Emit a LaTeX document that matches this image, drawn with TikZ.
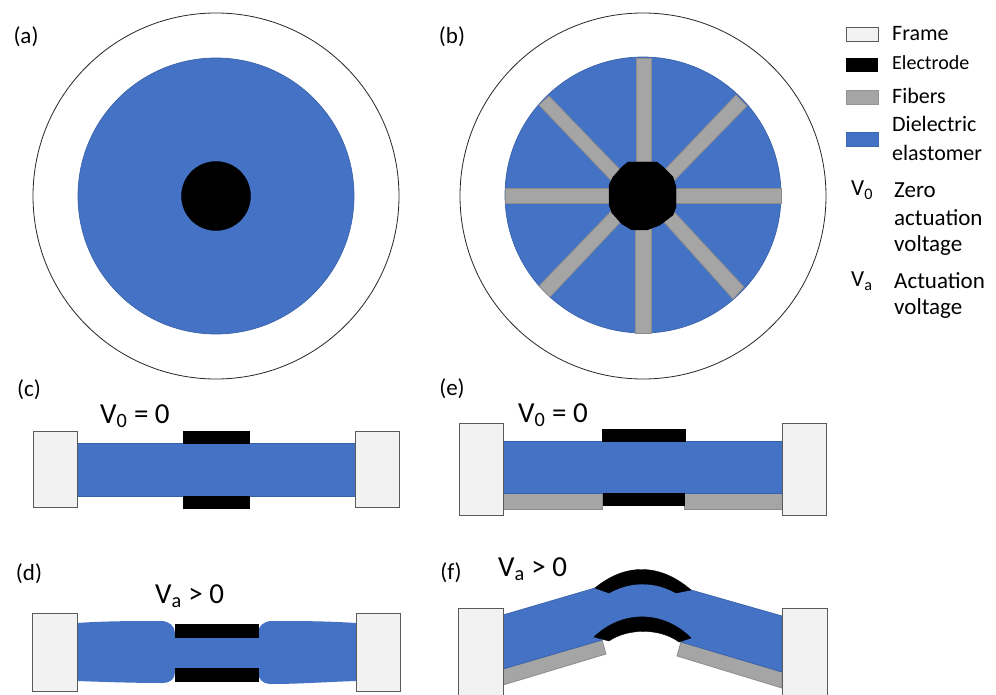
\documentclass[tikz,border=0pt]{standalone}
\usepackage{fontspec}
\setmainfont{Carlito}
\definecolor{blu}{HTML}{4472C4}
\definecolor{bluedge}{HTML}{3A62AA}
\definecolor{framefill}{HTML}{F2F2F2}
\definecolor{frameedge}{HTML}{5A5A5A}
\definecolor{fib}{HTML}{A5A5A5}
\definecolor{fibedge}{HTML}{8C8C8C}
\tikzset{
 ring/.style={draw=black!85,fill=white,line width=0.8pt},
 elastomer/.style={fill=blu,draw=bluedge,line width=0.7pt},
 elastnoedge/.style={fill=blu,draw=none},
 electrode/.style={fill=black,draw=black,line width=0.4pt},
 fiber/.style={fill=fib,draw=fibedge,line width=0.8pt},
 framebox/.style={fill=framefill,draw=frameedge,line width=0.9pt},
 lab/.style={inner sep=0pt,font=\fontsize{23}{27}\selectfont},
 leg/.style={inner sep=0pt,anchor=west,font=\fontsize{22}{26}\selectfont},
 legb/.style={inner sep=0pt,anchor=west,font=\fontsize{23}{27}\selectfont},
 volt/.style={inner sep=0pt,anchor=west,font=\fontsize{29}{35}\selectfont},
}
\begin{document}
\begin{tikzpicture}[x=1pt,y=-1pt]
\useasboundingbox (0,0) rectangle (996,695);
\clip (0,0) rectangle (996,695);
% (a)
\draw[ring] (216,196) circle[radius=183];
\draw[elastomer] (216,196) circle[radius=138];
\draw[electrode] (216,196) circle[radius=34.5];
% (b)
\draw[ring] (643,196) circle[radius=183];
\draw[elastomer] (643,195) circle[radius=138];
\draw[fiber] (636,58) rectangle (651,170);
\draw[fiber] (635,222) rectangle (651,333);
\draw[fiber] (505,188) rectangle (620,203);
\draw[fiber] (667,188) rectangle (781,203);
\draw[fiber] (539,105) -- (549,96) -- (630,180) -- (620,190) -- cycle;
\draw[fiber] (736,95) -- (747,106) -- (665,190) -- (655,180) -- cycle;
\draw[fiber] (539,286) -- (550,297) -- (630,212) -- (620,202) -- cycle;
\draw[fiber] (744,287) -- (733,299) -- (655,212) -- (665,202) -- cycle;
\draw[electrode] (628,162) -- (657,162) -- (663,167) -- (673,177) -- (676,187) -- (676,207) -- (673,215) -- (660,225) -- (647,230) -- (632,230) -- (622,224) -- (612,213) -- (609,205) -- (609,185) -- (613,177) -- (622,167) -- cycle;
% (c)
\draw[elastomer] (77,443) rectangle (355,496);
\draw[electrode] (183,431) rectangle (249,443);
\draw[electrode] (183,496) rectangle (249,508);
\draw[framebox] (33,431) rectangle (77,507);
\draw[framebox] (355,431) rectangle (399,507);
% (e)
\draw[fiber] (503,493) rectangle (602,509);
\draw[fiber] (684,493) rectangle (782,509);
\draw[elastomer] (503,441) rectangle (782,493);
\draw[electrode] (602,429) rectangle (685,441);
\draw[electrode] (603,493) rectangle (684,505);
\draw[framebox] (459,423) rectangle (503,515);
\draw[framebox] (782,423) rectangle (826,515);
% (d)
\draw[elastnoedge] (77,623) .. controls (105,621) and (135,621) .. (161,621)
  .. controls (169,621) and (175,626) .. (175,633) -- (175,672)
  .. controls (175,679) and (170,683) .. (163,683)
  .. controls (135,683) and (105,682) .. (77,681) -- cycle;
\fill[blu] (170,637) rectangle (263,668);
\draw[elastnoedge] (356,623) .. controls (325,621) and (300,621) .. (272,621)
  .. controls (264,621) and (258,626) .. (258,633) -- (258,672)
  .. controls (258,679) and (263,684) .. (270,684)
  .. controls (300,684) and (325,682) .. (356,681) -- cycle;
\draw[electrode] (175,624) rectangle (258,637);
\draw[electrode] (175,668) rectangle (258,681);
\draw[framebox] (32,613) rectangle (77,691);
\draw[framebox] (356,613) rectangle (400,691);
% (f)
\draw[fiber] (503,669) -- (602,640) -- (606,654) -- (503,685) -- cycle;
\draw[fiber] (681,642) -- (782,672) -- (782,688) -- (677,656) -- cycle;
\draw[elastomer] (503,615) -- (595,588) .. controls (630,575) and (655,575) .. (691,590) -- (782,616) -- (782,672) -- (681,642) -- (681,632)
  .. controls (660,622) and (625,622) .. (602,632) -- (602,640) -- (503,669) -- cycle;
\draw[electrode] (595,588) .. controls (625,563) and (660,563) .. (691,590)
  -- (676,593) .. controls (655,581) and (630,581) .. (609,593) -- cycle;
\draw[electrode] (594,637) .. controls (622,610) and (663,610) .. (691,638)
  -- (679,642) .. controls (660,628) and (628,628) .. (609,641) -- cycle;
\draw[framebox] (458,608) rectangle (503,705);
\draw[framebox] (782,608) rectangle (827,705);
% panel labels
\node[lab] (la) at (26,37) {(a)};
\node[lab] (lb) at (452,37) {(b)};
\node[lab] (lc) at (29,390) {(c)};
\node[lab] (le) at (452,389) {(e)};
\node[lab] (ld) at (29,574) {(d)};
\node[lab] (lf) at (451,573) {(f)};
\node[volt] (vc) at (100,416) {V\textsubscript{0} = 0};
\node[volt] (ve) at (518,415) {V\textsubscript{0} = 0};
\node[volt] (vd) at (155,596) {V\textsubscript{a} > 0};
\node[volt] (vf) at (498,569) {V\textsubscript{a} > 0};
% legend
\draw[framebox] (846,27) rectangle (878,41);
\fill[black] (846,58) rectangle (878,72);
\draw[fill=fib,draw=fib!90!black] (846,90) rectangle (878,104);
\draw[elastomer,draw=blu!90!black] (846,132) rectangle (878,146);
\node[leg] (t1) at (892,34) {Frame};
\node[leg,font=\fontsize{20}{24}\selectfont] (t2) at (892,63) {Electrode};
\node[leg] (t3) at (892,96) {Fibers};
\node[leg] (t4) at (892,124) {Dielectric};
\node[leg] (t5) at (892,153) {elastomer};
\node[legb] (t6) at (851,190) {V\textsubscript{0}};
\node[legb] (t7) at (894,190) {Zero};
\node[legb] (t8) at (894,218) {actuation};
\node[legb] (t9) at (894,245) {voltage};
\node[legb] (t10) at (851,281) {V\textsubscript{a}};
\node[legb] (t11) at (894,281) {Actuation};
\node[legb] (t12) at (894,308) {voltage};
\end{tikzpicture}
\end{document}
